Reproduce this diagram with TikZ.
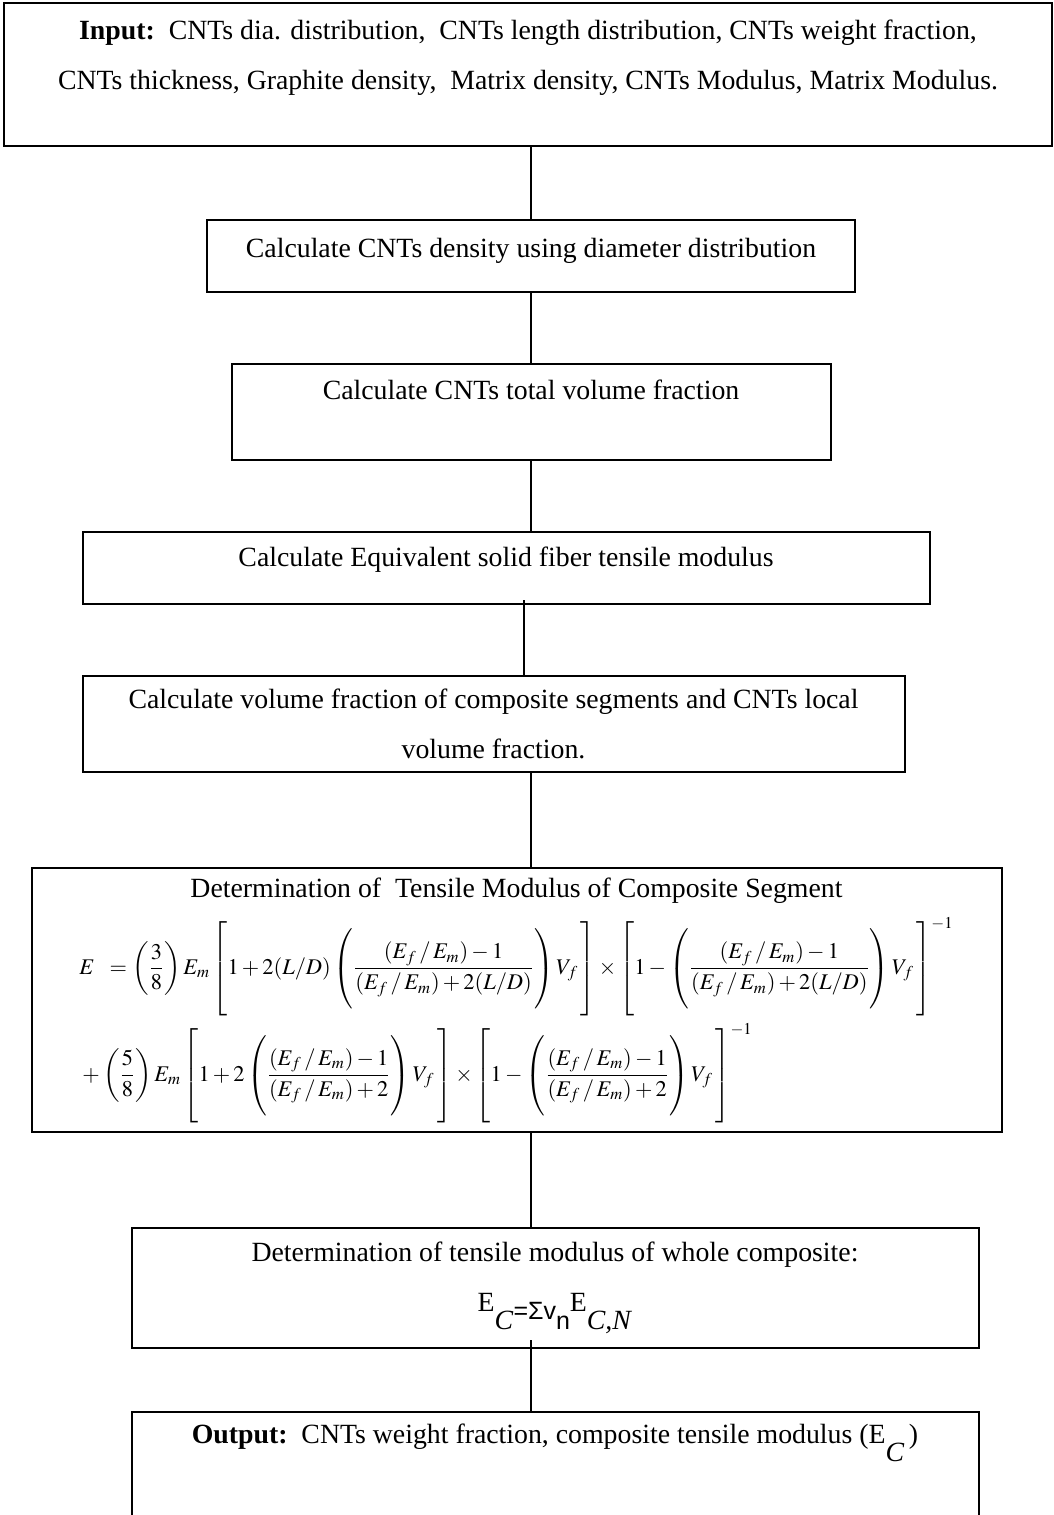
\documentclass[tikz,border=0pt]{standalone}
\usepackage{amsmath}
\usepackage{mathptmx}
\usepackage{fontspec}
\setmainfont{Liberation Serif}
\setsansfont{Liberation Sans}
\usetikzlibrary{positioning,calc}
\newcommand{\boxfont}{\fontsize{13.9}{25}\selectfont}
\newcommand{\sumfont}{\sffamily\fontsize{12.5}{14}\selectfont}
\newcommand{\eqfont}{\fontsize{11.2}{14}\selectfont}
\newcommand{\padbelow}[1]{\rule[-#1]{0pt}{#1}}
\newcommand{\lowsub}[1]{\raisebox{-9pt}{#1}}
\newcommand{\axisstrut}[1]{\vcenter{\hbox{\rule{0pt}{#1}}}}
\newcommand{\EfEm}{(E_f\,/\,E_m)}

\begin{document}
\begin{tikzpicture}[
    flowbox/.style={
      rectangle, draw=black, line width=1pt, inner sep=0pt, outer sep=0pt,
      align=center, font=\boxfont
    },
    link/.style={line width=0.6pt}
  ]
  \clip (0,0) rectangle (527pt,-757.5pt);
  % --- input data ---
  \node[flowbox, minimum width=524pt, minimum height=71.5pt] (inbox) at (264pt,-37.25pt)
    {\textbf{Input:}\ \ CNTs dia. distribution,\ \ CNTs length distribution, CNTs weight fraction,\\
     CNTs thickness, Graphite density,\ \ Matrix density, CNTs Modulus, Matrix Modulus.\padbelow{19.4pt}};

  % --- calculation steps ---
  \node[flowbox, minimum width=324pt, minimum height=36pt, below=37pt of inbox, xshift=1.5pt] (density)
    {Calculate CNTs density using diameter distribution\padbelow{7.9pt}};
  \node[flowbox, minimum width=299.5pt, minimum height=48pt, below=36pt of density] (volfrac)
    {Calculate CNTs total volume fraction\padbelow{22pt}};
  \node[flowbox, minimum width=423.5pt, minimum height=36pt, below=36pt of volfrac, xshift=-12.5pt] (solid)
    {Calculate Equivalent solid fiber tensile modulus\padbelow{11pt}};
  \node[flowbox, minimum width=411pt, minimum height=48pt, below=36pt of solid, xshift=-6.25pt] (segfrac)
    {Calculate volume fraction of composite segments and CNTs local\\ volume fraction.};

  % --- modulus of one segment ---
  \node[flowbox, minimum width=485pt, minimum height=132pt, below=48pt of segfrac, xshift=11.5pt] (segmod)
    {Determination of\ \ Tensile Modulus of Composite Segment\\[6pt]
     {\eqfont$\begin{aligned}
       &E\;\;=\left(\dfrac{3}{8}\right)E_m\left[\axisstrut{46pt}1+2(L/D)\left(\axisstrut{43pt}\dfrac{\EfEm-1}{\EfEm+2(L/D)}\right)V_f\,\right]\times\left[\axisstrut{46pt}1-\left(\axisstrut{43pt}\dfrac{\EfEm-1}{\EfEm+2(L/D)}\right)V_f\,\right]^{-1}\\
       &+\left(\dfrac{5}{8}\right)E_m\left[\axisstrut{46pt}1+2\left(\axisstrut{43pt}\dfrac{\EfEm-1}{\EfEm+2}\right)V_f\,\right]\times\left[\axisstrut{46pt}1-\left(\axisstrut{43pt}\dfrac{\EfEm-1}{\EfEm+2}\right)V_f\,\right]^{-1}
     \end{aligned}$}};

  % --- whole composite and output ---
  \node[flowbox, minimum width=423.5pt, minimum height=60pt, below=48pt of segmod, xshift=19.25pt] (wholemod)
    {Determination of tensile modulus of whole composite:\\
     E\lowsub{\textit{C}}\raisebox{-4pt}{\sumfont =Σv}\lowsub{\sumfont n}E\lowsub{\textit{C,N}}};
  \node[flowbox, minimum width=423.5pt, minimum height=60pt, below=32pt of wholemod] (output)
    {\textbf{Output:}\ \ CNTs weight fraction, composite tensile modulus (E\lowsub{\textit{C}}\,)\padbelow{38pt}};

  \coordinate (spine) at (265.5pt,0);
  \coordinate (spineb) at (262pt,0);
  \draw[link] (inbox.south -| spine) -- (density.north -| spine);
  \draw[link] (density.south -| spine) -- (volfrac.north -| spine);
  \draw[link] (volfrac.south -| spine) -- (solid.north -| spine);
  \draw[link] ($(solid.south -| spineb)+(0,2pt)$) -- (segfrac.north -| spineb);
  \draw[link] (segfrac.south -| spine) -- (segmod.north -| spine);
  \draw[link] (segmod.south -| spine) -- (wholemod.north -| spine);
  \draw[link] ($(wholemod.south -| spine)+(0,4pt)$) -- (output.north -| spine);
\end{tikzpicture}
\end{document}
